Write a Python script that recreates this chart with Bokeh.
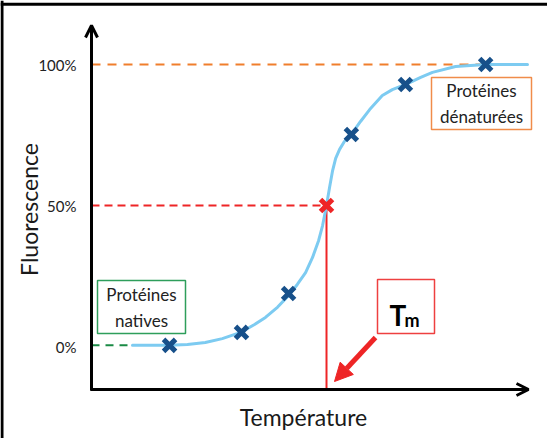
from math import pi
from bokeh.plotting import figure
from bokeh.models import (Range1d, LinearAxis, FixedTicker, Arrow, OpenHead, NormalHead,
                          Label, Span, BoxAnnotation)
from bokeh.embed import file_html
from bokeh.resources import INLINE

# ---------------- data (relative temperature, fluorescence in %) ----------------
point_temp = [17.9, 34.4, 45.2, 59.6, 72.0, 90.4]
point_fluo = [0.4, 5.0, 18.8, 75.2, 92.9, 100.0]
tm_temp = [53.9]
tm_fluo = [50.0]
curve_temp = [9.4, 17.9, 22.0, 26.1, 30.0, 34.2, 37.4, 39.9, 42.7, 45.4, 47.2, 49.1, 50.7,
              52.1, 53.0, 53.9, 54.6, 55.3, 56.0, 56.9, 58.0, 59.6, 61.7, 63.8, 66.7, 69.0,
              72.0, 75.5, 78.2, 83.5, 90.4, 100.0]
curve_fluo = [0.4, 0.4, 0.7, 1.4, 2.8, 5.0, 7.8, 10.3, 14.0, 18.4, 22.0, 26.2, 31.6,
              37.6, 42.9, 50.0, 56.4, 62.4, 66.7, 69.9, 72.7, 75.2, 79.8, 84.0, 89.0, 91.1,
              92.9, 95.4, 97.2, 99.3, 100.0, 100.0]
y_ticks = [0, 50, 100]
y_tick_labels = ["0%", "50%", "100%"]
native_end = 9.4
denat_end = 89.7

# ---------------- pixel <-> data helpers for layout ----------------
def dx(px):
    return (px - 99) / 4.36

def dy(py):
    return (354 - py) / 2.82

FONT = "Lato"
BLUE = "#17508A"
LIGHT = "#7DCBF1"
RED = "#EE2526"
ORANGE = "#F07E2C"
GREEN = "#1A8A45"

p = figure(width=547, height=438, x_range=Range1d(dx(8), dx(555)), y_range=Range1d(dy(446), dy(8)),
           output_backend="svg", toolbar_location=None, x_axis_location=None, y_axis_location=None,
           min_border=0, outline_line_color=None)
p.grid.visible = False

# outer frame (top and left)
p.add_layout(Span(location=dy(11.8), dimension="width", line_color="black", line_width=3))
p.add_layout(Span(location=dx(9.5), dimension="height", line_color="black", line_width=3))

x_axis_y = dy(397)
y_axis_top = dy(33)
x_axis_end = dx(536)

# axes
yaxis = LinearAxis(fixed_location=0, ticker=FixedTicker(ticks=y_ticks),
                   major_label_overrides={t: l for t, l in zip(y_ticks, y_tick_labels)},
                   bounds=(x_axis_y - 0.5, y_axis_top - 2), axis_line_width=3, axis_line_color="black",
                   major_tick_line_color=None, minor_tick_line_color=None,
                   major_label_text_font=FONT, major_label_text_font_size="15px",
                   major_label_text_color="#222222", major_label_standoff=9)
p.add_layout(yaxis, "left")
xaxis = LinearAxis(fixed_location=x_axis_y, ticker=FixedTicker(ticks=[]),
                   bounds=(-0.3, x_axis_end - 1), axis_line_width=3, axis_line_color="black",
                   major_tick_line_color=None, minor_tick_line_color=None,
                   major_label_text_font_size="0px")
p.add_layout(xaxis, "below")

p.add_layout(Arrow(end=OpenHead(size=12, line_width=3, line_color="black"),
                   x_start=0, y_start=y_axis_top - 6, x_end=0, y_end=y_axis_top,
                   line_width=3, line_color="black"))
p.add_layout(Arrow(end=OpenHead(size=12, line_width=3, line_color="black"),
                   x_start=x_axis_end - 4, y_start=x_axis_y, x_end=x_axis_end, y_end=x_axis_y,
                   line_width=3, line_color="black"))

# guide lines
p.line([0, native_end], [curve_fluo[0], curve_fluo[0]], line_color=GREEN, line_width=2, line_dash="8 6")
p.line([0, denat_end], [100, 100], line_color=ORANGE, line_width=2, line_dash="9 7")
p.line([0, tm_temp[0]], [tm_fluo[0], tm_fluo[0]], line_color=RED, line_width=2, line_dash="8 5")
p.line([tm_temp[0], tm_temp[0]], [tm_fluo[0], x_axis_y], line_color=RED, line_width=2)

# melting curve and points
p.line(curve_temp, curve_fluo, line_color=LIGHT, line_width=3, line_join="round", line_cap="round")
p.scatter(point_temp, point_fluo, marker="x", size=17, line_width=5, line_color=BLUE)
p.scatter(tm_temp, tm_fluo, marker="x", size=17, line_width=5, line_color=RED)

# axis titles
p.add_layout(Label(x=dx(36), y=dy(217), text="Fluorescence", angle=pi / 2, text_align="center",
                   text_baseline="middle", text_font=FONT, text_font_size="23px", text_color="#1a1a1a"))
p.add_layout(Label(x=dx(311), y=dy(424), text="Température", text_align="center",
                   text_baseline="middle", text_font=FONT, text_font_size="23px", text_color="#1a1a1a"))

# boxes
def box(l, r, t, b, color):
    return BoxAnnotation(left=dx(l), right=dx(r), top=dy(t), bottom=dy(b),
                         fill_color="white", fill_alpha=1, line_color=color, line_alpha=1,
                         line_width=1.5)

p.add_layout(box(105, 193, 288, 341, "#2E9E5B"))
p.add_layout(Label(x=dx(149), y=dy(315), text="Protéines\nnatives", text_align="center",
                   text_baseline="middle", text_font=FONT, text_font_size="17px", text_color="#222222"))
p.add_layout(box(439, 539, 85, 137, "#F08C4A"))
p.add_layout(Label(x=dx(489), y=dy(111), text="Protéines\ndénaturées", text_align="center",
                   text_baseline="middle", text_font=FONT, text_font_size="17px", text_color="#222222"))
p.add_layout(box(385, 442, 287, 341, "#EE4040"))
p.add_layout(Label(x=dx(397), y=dy(322), text="T", text_align="left", text_baseline="alphabetic",
                   text_font=FONT, text_font_size="28px", text_font_style="bold", text_color="black"))
p.add_layout(Label(x=dx(412), y=dy(327), text="m", text_align="left", text_baseline="alphabetic",
                   text_font=FONT, text_font_size="18px", text_font_style="bold", text_color="black"))

# Tm arrow
p.add_layout(Arrow(end=NormalHead(size=18, fill_color=RED, line_color=RED),
                   x_start=dx(383), y_start=dy(345), x_end=dx(342), y_end=dy(389),
                   line_width=5, line_color=RED))

open("out.html", "w").write(file_html(p, INLINE))
